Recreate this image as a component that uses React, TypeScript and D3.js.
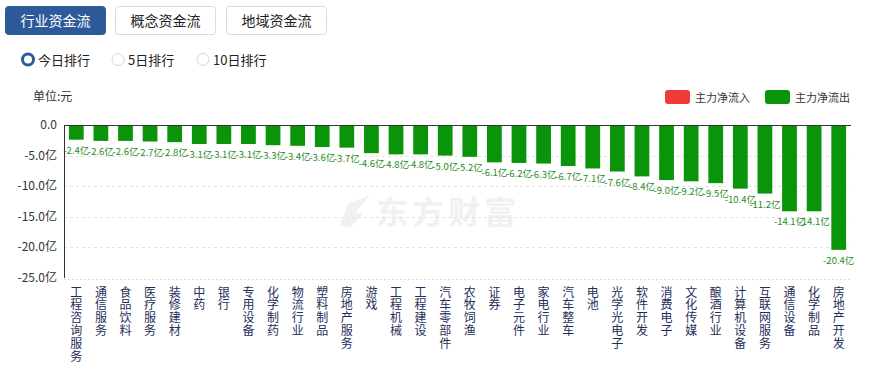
import React from "react";
import * as d3 from "d3";

const categories = ["工程咨询服务","通信服务","食品饮料","医疗服务","装修建材","中药","银行","专用设备","化学制药","物流行业","塑料制品","房地产服务","游戏","工程机械","工程建设","汽车零部件","农牧饲渔","证券","电子元件","家电行业","汽车整车","电池","光学光电子","软件开发","消费电子","文化传媒","酿酒行业","计算机设备","互联网服务","通信设备","化学制品","房地产开发"];
const values = [-2.4,-2.6,-2.6,-2.7,-2.8,-3.1,-3.1,-3.1,-3.3,-3.4,-3.6,-3.7,-4.6,-4.8,-4.8,-5.0,-5.2,-6.1,-6.2,-6.3,-6.7,-7.1,-7.6,-8.4,-9.0,-9.2,-9.5,-10.4,-11.2,-14.1,-14.1,-20.4];
const yTicks = [0, -5, -10, -15, -20, -25];
const tabs = ["行业资金流", "概念资金流", "地域资金流"];
const radios = ["今日排行", "5日排行", "10日排行"];
const legendItems = [{ name: "主力净流入", color: "#f03a3a" }, { name: "主力净流出", color: "#0a940a" }];

const FONT = "'Microsoft YaHei','Noto Sans CJK SC',sans-serif";

export default function App() {
  const W = 877, H = 366;
  const left = 64, right = 851, top = 125, bottom = 278;
  const x = d3.scaleBand<string>().domain(categories).range([left, right]).paddingInner(0.4).paddingOuter(0.2);
  const y = d3.scaleLinear().domain([0, -25]).range([top, bottom]);
  const green = "#0a940a";

  const tabX = [5, 115, 226];
  const radioX = [28, 118, 203];

  return (
    <svg width={W} height={H} style={{ position: "absolute", left: 0, top: 0, fontFamily: FONT }}>
      <rect width={W} height={H} fill="#fff" />
      {tabs.map((t, i) => (
        <g key={t}>
          <rect x={tabX[i] + 0.5} y={6.5} width={100} height={28} rx={3}
            fill={i === 0 ? "#2f5a9a" : "#fff"} stroke={i === 0 ? "#2f5a9a" : "#d6dbe3"} />
          <text x={tabX[i] + 50.5} y={25.5} textAnchor="middle" fontSize={14}
            fill={i === 0 ? "#fff" : "#222"}>{t}</text>
        </g>
      ))}
      {radios.map((r, i) => (
        <g key={r}>
          {i === 0 ? (
            <circle cx={radioX[i]} cy={59.5} r={5.5} fill="#fff" stroke="#2f5a9a" strokeWidth={3} />
          ) : (
            <circle cx={radioX[i]} cy={59.5} r={6} fill="#fff" stroke="#cfd6e0" strokeWidth={1} />
          )}
          <text x={radioX[i] + 10} y={64.5} fontSize={13} fill="#222">{r}</text>
        </g>
      ))}
      <text x={33} y={101} fontSize={12} fill="#333">单位:元</text>
      {legendItems.map((l, i) => (
        <g key={l.name}>
          <rect x={665 + i * 100} y={90} width={25} height={14} rx={3} fill={l.color} />
          <text x={695 + i * 100} y={101.5} fontSize={11} fill="#333">{l.name}</text>
        </g>
      ))}
      {/* watermark */}
      <g>
        <path d="M340,226 L348,204 L370,195 L355,213 L364,213 L351,227 Z" fill="#f1f1f1" />
        <text x={376} y={224} fontSize={32} fontWeight="bold" fill="#f1f1f1" letterSpacing={4}>东方财富</text>
      </g>
      {/* grid */}
      {yTicks.slice(1, 5).map((t) => (
        <line key={t} x1={left} x2={right} y1={Math.round(y(t)) + 0.5} y2={Math.round(y(t)) + 0.5}
          stroke="#e3e3e3" strokeDasharray="3,3" />
      ))}
      <line x1={left} x2={right} y1={Math.round(y(-25)) + 1.5} y2={Math.round(y(-25)) + 1.5} stroke="#dcdcdc" strokeDasharray="2,2" />
      {yTicks.map((t) => (
        <text key={t} x={57} y={y(t) + 4} textAnchor="end" fontSize={12} fill="#333">
          {t === 0 ? "0.0" : `${t.toFixed(1)}亿`}
        </text>
      ))}
      {/* bars */}
      {categories.map((c, i) => {
        const cx = (x(c) as number) + x.bandwidth() / 2;
        return (
          <g key={c}>
            <rect x={x(c)} y={y(0)} width={x.bandwidth()} height={y(values[i]) - y(0)} fill={green} />
            <text x={cx} y={y(values[i]) + 14} textAnchor="middle" fontSize={9.5} fill="#1e8c1e">
              {`${values[i].toFixed(1)}亿`}
            </text>
            <text x={cx} y={286} fontSize={12} fill="#1f2d5a"
              style={{ writingMode: "vertical-rl", textOrientation: "upright", letterSpacing: "0.8px" }}>
              {c}
            </text>
          </g>
        );
      })}
      <line x1={left} x2={right} y1={top + 0.5} y2={top + 0.5} stroke="#333" />
      <line x1={left + 0.5} x2={left + 0.5} y1={top} y2={bottom} stroke="#333" />
    </svg>
  );
}
